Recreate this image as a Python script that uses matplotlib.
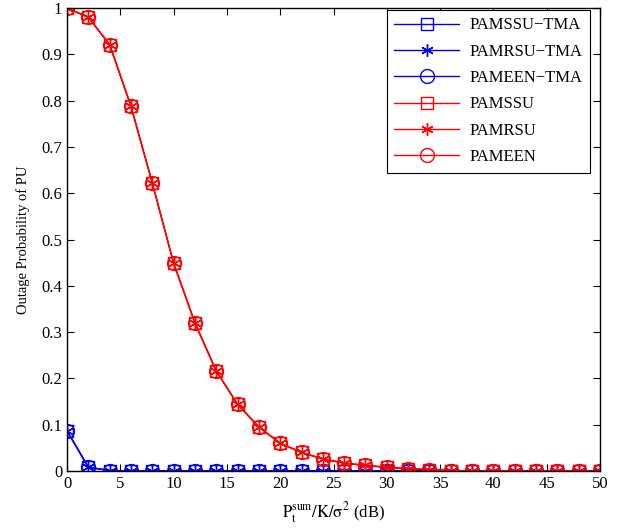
import numpy as np
import matplotlib.pyplot as plt

plt.rcParams['font.family'] = ['Liberation Serif', 'DejaVu Serif']
plt.rcParams['mathtext.fontset'] = 'stix'

# SNR axis (dB)
snr = np.arange(0, 51, 2)

# outage probability with TMA (blue)
p_tma = [0.087, 0.008, 0.001, 0, 0, 0, 0, 0, 0, 0, 0, 0, 0,
         0, 0, 0, 0, 0, 0, 0, 0, 0, 0, 0, 0, 0]
# outage probability without TMA (red)
p_plain = [1.0, 0.98, 0.921, 0.788, 0.622, 0.449, 0.320, 0.216, 0.144, 0.095,
           0.060, 0.040, 0.026, 0.017, 0.012, 0.008, 0.005, 0.003, 0.001,
           0.0005, 0, 0, 0, 0, 0, 0]

labels_tma = ['PAMSSU\u2212TMA', 'PAMRSU\u2212TMA', 'PAMEEN\u2212TMA']
labels_plain = ['PAMSSU', 'PAMRSU', 'PAMEEN']

fig = plt.figure(figsize=(6.18, 5.29), dpi=100)
ax = fig.add_axes([67 / 618, 58 / 529, 533 / 618, 463 / 529])

asterisk = (6, 2, 0)
markers = [('s', 9), (asterisk, 9), ('o', 10)]

for (m, ms), lab in zip(markers, labels_tma):
    ax.plot(snr, p_tma, color='blue', lw=1, marker=m, ms=ms, mfc='none',
            mec='blue', mew=1, label=lab)
for (m, ms), lab in zip(markers, labels_plain):
    ax.plot(snr, p_plain, color='red', lw=1, marker=m, ms=ms, mfc='none',
            mec='red', mew=1, label=lab)

ax.set_xlim(0, 50)
ax.set_ylim(0, 1)
ax.set_xticks(np.arange(0, 51, 5))
ax.set_yticks(np.arange(0, 1.01, 0.1))
ax.set_yticklabels(['0', '0.1', '0.2', '0.3', '0.4', '0.5', '0.6', '0.7',
                    '0.8', '0.9', '1'])
ax.tick_params(direction='in', top=True, right=True, labelsize=12,
               length=5, width=0.8)
for s in ax.spines.values():
    s.set_linewidth(1)

ax.set_xlabel(r'$\mathrm{P_t^{sum}/K/\sigma^2}$ (dB)', fontsize=12, labelpad=6)
ax.set_ylabel('Outage Probability of PU', fontsize=10.5, labelpad=8)

leg = ax.legend(loc='upper right', bbox_to_anchor=(0.981, 0.996),
                fontsize=12, handlelength=3.9, handletextpad=0.6,
                fancybox=False, framealpha=1, edgecolor='black',
                borderaxespad=0, labelspacing=0.62, borderpad=0.45)
leg.get_frame().set_linewidth(0.8)

fig.savefig('out.png', dpi=100)
